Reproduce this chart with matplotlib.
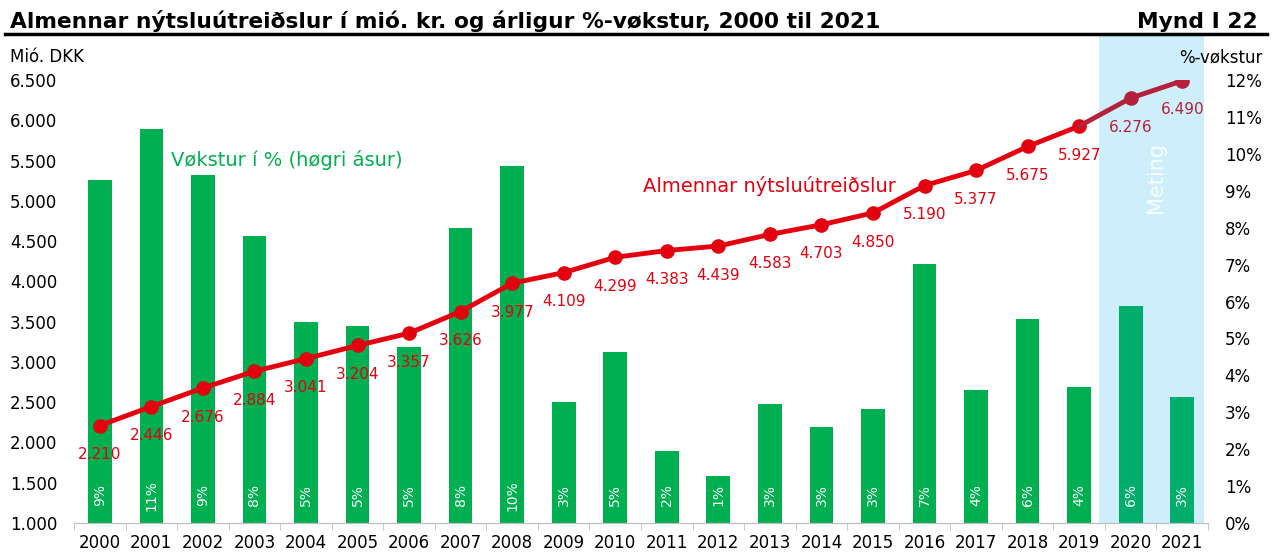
import matplotlib
matplotlib.use('Agg')
import matplotlib.pyplot as plt
import numpy as np

years = [str(y) for y in range(2000, 2022)]
spending = [2210, 2446, 2676, 2884, 3041, 3204, 3357, 3626, 3977, 4109, 4299,
            4383, 4439, 4583, 4703, 4850, 5190, 5377, 5675, 5927, 6276, 6490]
growth = [9.29, 10.68, 9.43, 7.78, 5.45, 5.34, 4.77, 7.99, 9.67, 3.28, 4.63,
          1.95, 1.27, 3.22, 2.60, 3.09, 7.02, 3.60, 5.53, 3.69, 5.88, 3.41]
growth_labels = ['9%', '11%', '9%', '8%', '5%', '5%', '5%', '8%', '10%', '3%', '5%',
                 '2%', '1%', '3%', '3%', '3%', '7%', '4%', '6%', '4%', '6%', '3%']
n_forecast = 2  # 2020, 2021 are estimates

green = '#00b050'
green_fc = '#00ae6c'
red = '#e3000f'
red_fc = '#b5203a'
shade = '#cdeefa'

fig = plt.figure(figsize=(12.79, 5.58), dpi=100)
ax = fig.add_axes([0.0579, 0.0627, 0.8866, 0.7939])
ax2 = ax.twinx()

x = np.arange(len(years))
n = len(years)

# forecast shade
ax.axvspan(n - n_forecast - 0.62, n - 0.58, ymin=0, ymax=1.1016, color=shade,
           zorder=0, clip_on=False, lw=0)
ax.text(n - 1.5, 9.35, 'Meting', rotation=90, color='white', fontsize=15,
        ha='center', va='center', alpha=0.9)

bar_colors = [green] * (n - n_forecast) + [green_fc] * n_forecast
ax.bar(x, growth, width=0.46, color=bar_colors, zorder=2)
for xi, lab in zip(x, growth_labels):
    ax.text(xi, 0.75, lab, rotation=90, color='white', fontsize=10,
            ha='center', va='center', zorder=3)

ax.set_ylim(0, 12)
ax.set_xlim(-0.5, n - 0.5)
ax.set_yticks(range(0, 13))
ax.set_yticklabels([f'{v}%' for v in range(0, 13)])
ax.yaxis.tick_right()
ax.tick_params(axis='y', length=0, labelsize=12, pad=12)

# line on left axis
m = n - n_forecast
ax2.plot(x[:m], spending[:m], color=red, lw=3.5, marker='o', ms=9.5, zorder=5)
ax2.plot(x[m - 1:], spending[m - 1:], color=red_fc, lw=3.5, zorder=5)
ax2.plot(x[m:], spending[m:], color=red_fc, lw=0, marker='o', ms=9.5, zorder=6)
for i, (xi, v) in enumerate(zip(x, spending)):
    c = red if i < m else red_fc
    ax2.annotate(f'{v:,}'.replace(',', '.'), (xi, v), xytext=(0, -21),
                 textcoords='offset points', ha='center', va='center',
                 color=c, fontsize=11)
ax2.set_ylim(1000, 6500)
ticks = np.arange(1000, 6501, 500)
ax2.set_yticks(ticks)
ax2.set_yticklabels([f'{t:,}'.replace(',', '.') for t in ticks])
ax2.yaxis.tick_left()
ax2.tick_params(axis='y', length=0, labelsize=12, pad=12)

ax.set_xticks(x)
ax.set_xticklabels(years, fontsize=12)
ax.set_xticks(np.arange(-0.5, n, 1), minor=True)
ax.tick_params(axis='x', which='major', length=0, pad=8)
ax.tick_params(axis='x', which='minor', length=5, color='#bfbfbf')

for a in (ax, ax2):
    for s in ('left', 'right', 'top'):
        a.spines[s].set_visible(False)
    a.spines['bottom'].set_color('#bfbfbf')

ax.text(3.63, 9.84, 'Vøkstur í % (høgri ásur)', color=green, fontsize=14,
        ha='center', va='center')
ax2.text(13.0, 5184, 'Almennar nýtsluútreiðslur', color=red, fontsize=14,
         ha='center', va='center')

fig.text(0.008, 0.950, 'Almennar nýtsluútreiðslur í mió. kr. og árligur %-vøkstur, 2000 til 2021',
         fontsize=15.7, fontweight='bold', ha='left', va='baseline')
fig.text(0.983, 0.950, 'Mynd I 22', fontsize=15.7, fontweight='bold',
         ha='right', va='baseline')
fig.add_artist(plt.Line2D([0.004, 0.991], [0.939, 0.939], color='black', lw=2.5))
fig.text(0.008, 0.897, 'Mió. DKK', fontsize=12, ha='left', va='center')
fig.text(0.987, 0.897, '%-vøkstur', fontsize=12, ha='right', va='center')

fig.savefig('out.png', dpi=100)
